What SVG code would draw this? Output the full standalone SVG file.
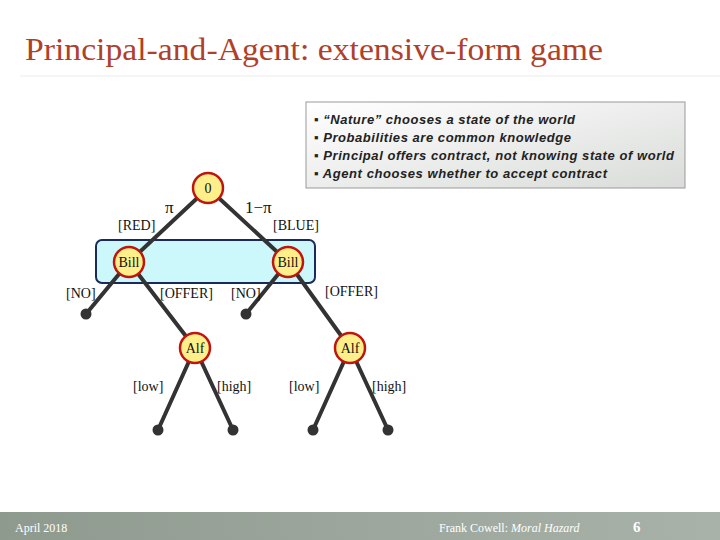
<svg xmlns="http://www.w3.org/2000/svg" width="720" height="540" viewBox="0 0 720 540">
<defs>
<linearGradient id="g" x1="0" y1="0" x2="1" y2="1"><stop offset="0" stop-color="#ffffff"/><stop offset="1" stop-color="#d9dcd9"/></linearGradient>
<linearGradient id="ft" x1="0" y1="0" x2="1" y2="0"><stop offset="0" stop-color="#8f9a8f"/><stop offset="1" stop-color="#a9b2a9"/></linearGradient>
</defs>
<style>
.e{stroke:#333;stroke-width:4;stroke-linecap:round}
.n circle{fill:#ffef8a;stroke:#c0150f;stroke-width:2.5}
.n text,.l{font-family:"Liberation Serif",serif;font-size:14px;fill:#111}
.b{font-family:"Liberation Sans",sans-serif;font-size:13px;font-weight:bold;font-style:italic;fill:#222}
</style>
<rect width="720" height="540" fill="#fff"/>
<text x="25" y="60" font-family="Liberation Serif,serif" font-size="32" fill="#b0402a" textLength="578" lengthAdjust="spacingAndGlyphs">Principal-and-Agent: extensive-form game</text>
<line x1="20" y1="76" x2="720" y2="76" stroke="#ececec" stroke-width="1"/>
<rect x="306" y="102" width="379" height="86" fill="url(#g)" stroke="#999"/>
<g class="b">
<text x="314" y="124" textLength="261">▪ “Nature” chooses a state of the world</text>
<text x="314" y="142" textLength="257">▪ Probabilities are common knowledge</text>
<text x="314" y="160" textLength="360">▪ Principal  offers contract, not knowing state of world</text>
<text x="314" y="178" textLength="293">▪ Agent chooses whether to accept contract</text>
</g>
<rect id="infoset" x="96" y="240" width="219" height="43" rx="6" fill="#ccf7fb" stroke="#1a2a5a" stroke-width="2"/>
<g id="connectors">
<line class="e" x1="208" y1="188" x2="129" y2="262"/>
<line class="e" x1="208" y1="188" x2="288" y2="262"/>
<line class="e" x1="129" y1="262" x2="86" y2="314"/>
<line class="e" x1="129" y1="262" x2="195" y2="348"/>
<line class="e" x1="288" y1="262" x2="246" y2="314"/>
<line class="e" x1="288" y1="262" x2="350" y2="348"/>
<line class="e" x1="195" y1="348" x2="158" y2="430"/>
<line class="e" x1="195" y1="348" x2="233" y2="430"/>
<line class="e" x1="350" y1="348" x2="313" y2="430"/>
<line class="e" x1="350" y1="348" x2="388" y2="430"/>
</g>
<g fill="#333">
<circle id="t1" cx="86" cy="314" r="5.5"/><circle id="t2" cx="246" cy="314" r="5.5"/>
<circle id="t3" cx="158" cy="430" r="5.5"/><circle id="t4" cx="233" cy="430" r="5.5"/>
<circle id="t5" cx="313" cy="430" r="5.5"/><circle id="t6" cx="388" cy="430" r="5.5"/>
</g>
<g id="root" class="n"><circle cx="208" cy="188" r="15"/><text x="208" y="193" text-anchor="middle">0</text></g>
<g id="billL" class="n"><circle cx="129" cy="262" r="15"/><text x="129" y="267" text-anchor="middle">Bill</text></g>
<g id="billR" class="n"><circle cx="288" cy="262" r="15"/><text x="288" y="267" text-anchor="middle">Bill</text></g>
<g id="alfL" class="n"><circle cx="195" cy="348" r="15"/><text x="195" y="353" text-anchor="middle">Alf</text></g>
<g id="alfR" class="n"><circle cx="350" cy="348" r="15"/><text x="350" y="353" text-anchor="middle">Alf</text></g>
<g class="l">
<text x="165" y="213" font-size="17">π</text>
<text x="245" y="213" font-size="17">1−π</text>
<text x="118" y="230">[RED]</text>
<text x="273" y="230">[BLUE]</text>
<text x="66" y="298">[NO]</text>
<text x="160" y="298">[OFFER]</text>
<text x="231" y="298">[NO]</text>
<text x="325" y="296">[OFFER]</text>
<text x="133" y="391">[low]</text>
<text x="217" y="391">[high]</text>
<text x="289" y="391">[low]</text>
<text x="372" y="391">[high]</text>
</g>
<rect x="0" y="512" width="720" height="28" fill="url(#ft)"/>
<text x="15" y="532" font-family="Liberation Serif,serif" font-size="12" fill="#fff">April 2018</text>
<text x="439" y="532" font-family="Liberation Serif,serif" font-size="12" fill="#fff">Frank Cowell: <tspan font-style="italic">Moral Hazard</tspan></text>
<text x="633" y="532" font-family="Liberation Serif,serif" font-size="15" font-weight="bold" fill="#fff">6</text>
</svg>
